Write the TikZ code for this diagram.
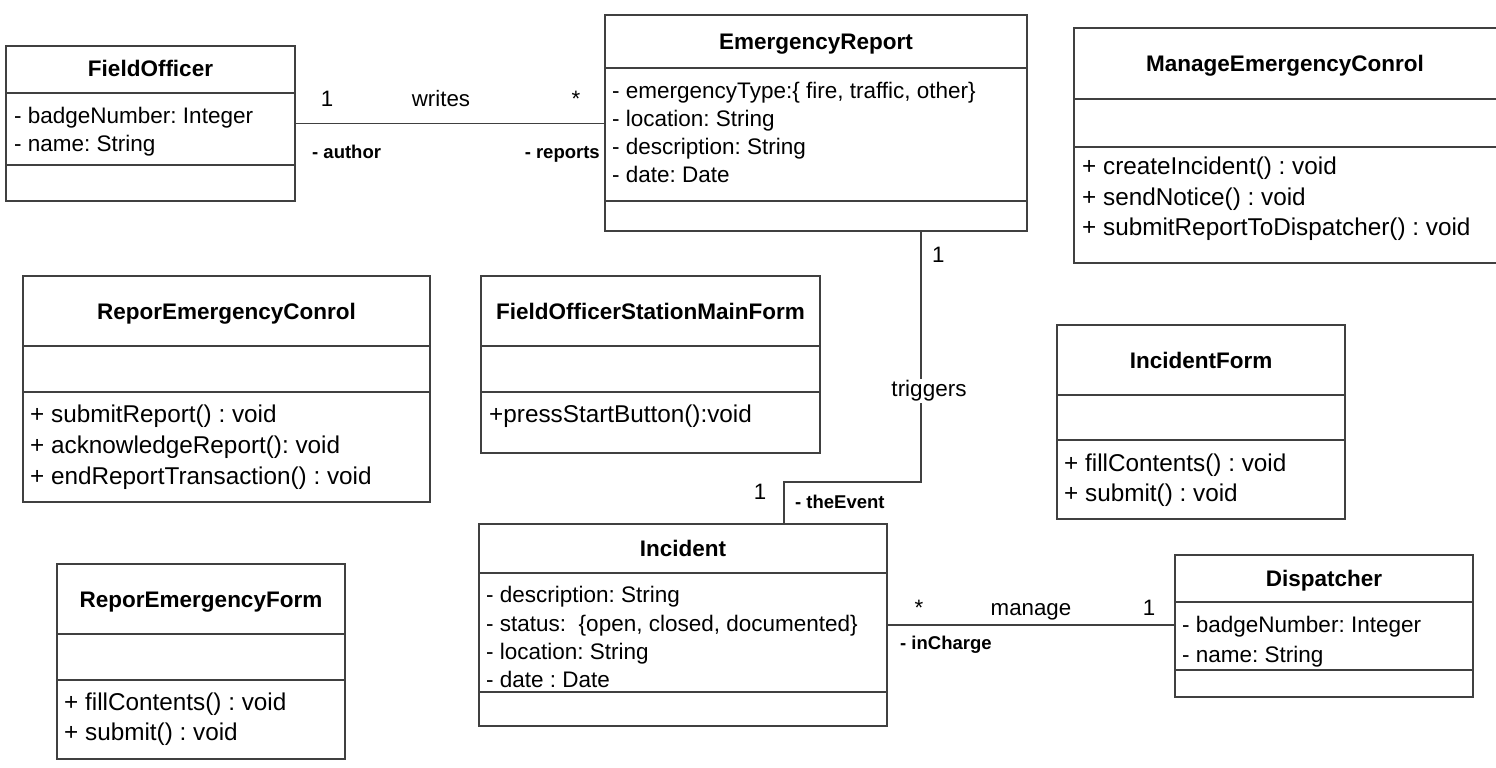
\documentclass[tikz,border=0pt]{standalone}
\usepackage{fontspec}
\setmainfont{Liberation Sans}
\frenchspacing
\begin{document}
\begin{tikzpicture}[x=1pt,y=-1pt,
  box/.style={draw=black!75, line width=1.1pt, anchor=north west, inner sep=0pt, outer sep=0pt},
  div/.style={draw=black!75, line width=1.1pt},
  ttl/.style={font=\bfseries\fontsize{22.5}{27}\selectfont, anchor=base, inner sep=0pt},
  txt/.style={font=\fontsize{22.5}{27}\selectfont, anchor=base west, inner sep=0pt},
  mth/.style={font=\fontsize{24.3}{29}\selectfont, anchor=base west, inner sep=0pt},
  lbl/.style={font=\fontsize{22.3}{27}\selectfont, anchor=base, inner sep=0pt},
  role/.style={font=\bfseries\fontsize{18.5}{22}\selectfont, inner sep=0pt},
  assoc/.style={draw=black!75, line width=1.1pt}]
\useasboundingbox (0,0) rectangle (1496,768);
\fill[white] (0,0) rectangle (1496,768);

% FieldOfficer
\node[box, minimum width=289pt, minimum height=155pt] (fo) at (6,46) {};
\draw[div] (6,93) -- (295,93);
\draw[div] (6,165) -- (295,165);
\node[ttl] (fo-t) at (150.5,77) {FieldOfficer};
\node[txt] (fo-a1) at (14,123) {- badgeNumber: Integer};
\node[txt] (fo-a2) at (14,151) {- name: String};

% EmergencyReport
\node[box, minimum width=422pt, minimum height=216pt] (er) at (605,15) {};
\draw[div] (605,68) -- (1027,68);
\draw[div] (605,201) -- (1027,201);
\node[ttl] (er-t) at (816,49) {EmergencyReport};
\node[txt] (er-a1) at (612,98) {- emergencyType:\{ fire, traffic, other\}};
\node[txt] (er-a2) at (612,126) {- location: String};
\node[txt] (er-a3) at (612,154) {- description: String};
\node[txt] (er-a4) at (612,182) {- date: Date};

% ManageEmergencyConrol (right border lies past the page edge)
\node[box, minimum width=430pt, minimum height=235pt] (mec) at (1074,28) {};
\draw[div] (1074,99) -- (1504,99);
\draw[div] (1074,147) -- (1504,147);
\node[ttl] (mec-t) at (1285,71) {ManageEmergencyConrol};
\node[mth] (mec-m1) at (1082,174.5) {+ createIncident() : void};
\node[mth] (mec-m2) at (1082,205) {+ sendNotice() : void};
\node[mth] (mec-m3) at (1082,235.5) {+ submitReportToDispatcher() : void};

% ReporEmergencyConrol
\node[box, minimum width=407pt, minimum height=226pt] (rec) at (23,276) {};
\draw[div] (23,346) -- (430,346);
\draw[div] (23,392) -- (430,392);
\node[ttl] (rec-t) at (226.5,319) {ReporEmergencyConrol};
\node[mth] (rec-m1) at (30,422.5) {+ submitReport() : void};
\node[mth] (rec-m2) at (30,453.5) {+ acknowledgeReport(): void};
\node[mth] (rec-m3) at (30,484.5) {+ endReportTransaction() : void};

% FieldOfficerStationMainForm
\node[box, minimum width=339pt, minimum height=177pt] (fosmf) at (481,276) {};
\draw[div] (481,346) -- (820,346);
\draw[div] (481,392) -- (820,392);
\node[ttl] (fosmf-t) at (650.5,319) {FieldOfficerStationMainForm};
\node[mth] (fosmf-m1) at (489,422.5) {+pressStartButton():void};

% IncidentForm
\node[box, minimum width=288pt, minimum height=194pt] (ifm) at (1057,325) {};
\draw[div] (1057,395) -- (1345,395);
\draw[div] (1057,440) -- (1345,440);
\node[ttl] (ifm-t) at (1201,368) {IncidentForm};
\node[mth] (ifm-m1) at (1064,471.5) {+ fillContents() : void};
\node[mth] (ifm-m2) at (1064,501.5) {+ submit() : void};

% Incident
\node[box, minimum width=408pt, minimum height=202pt] (inc) at (479,524) {};
\draw[div] (479,573) -- (887,573);
\draw[div] (479,692) -- (887,692);
\node[ttl] (inc-t) at (683,556) {Incident};
\node[txt] (inc-a1) at (486,602) {- description: String};
\node[txt] (inc-a2) at (486,631) {- status:\ \ \{open, closed, documented\}};
\node[txt] (inc-a3) at (486,659) {- location: String};
\node[txt] (inc-a4) at (486,687) {- date : Date};

% Dispatcher
\node[box, minimum width=298pt, minimum height=142pt] (disp) at (1175,555) {};
\draw[div] (1175,602) -- (1473,602);
\draw[div] (1175,670) -- (1473,670);
\node[ttl] (disp-t) at (1324,586) {Dispatcher};
\node[txt] (disp-a1) at (1182,632) {- badgeNumber: Integer};
\node[txt] (disp-a2) at (1182,662) {- name: String};

% ReporEmergencyForm
\node[box, minimum width=288pt, minimum height=195pt] (ref) at (57,564) {};
\draw[div] (57,634) -- (345,634);
\draw[div] (57,680) -- (345,680);
\node[ttl] (ref-t) at (201,607) {ReporEmergencyForm};
\node[mth] (ref-m1) at (64,710.5) {+ fillContents() : void};
\node[mth] (ref-m2) at (64,740.5) {+ submit() : void};

% writes association
\draw[assoc] (fo.east) -- (fo.east -| er.west);
\node[lbl] (w1) at (327,106) {1};
\node[lbl] (wname) at (441,106) {writes};
\node[lbl] (wstar) at (576,106) {*};
\node[role, anchor=base west] (wauth) at (312,158.5) {- author};
\node[role, anchor=base east] (wrep) at (600,158.5) {- reports};

% triggers association
\coordinate (tb) at (921,482);
\coordinate (tl) at (784,482);
\draw[assoc] (er.south -| tb) -- (tb) -- (tl) -- (inc.north -| tl);
\node[font=\fontsize{22.5}{27}\selectfont, fill=white, inner sep=2pt] (tname) at (929,391) {triggers};
\node[lbl, anchor=base west] (t1) at (932,262) {1};
\node[lbl] (t2) at (760,499) {1};
\node[role, anchor=base west] (tev) at (795,508.5) {- theEvent};

% manage association
\draw[assoc] (inc.east) -- (inc.east -| disp.west);
\node[lbl] (mstar) at (919,615) {*};
\node[lbl] (mname) at (1031,615) {manage};
\node[lbl] (m1) at (1149,615) {1};
\node[role, anchor=base west] (mch) at (900,649.5) {- inCharge};
\end{tikzpicture}
\end{document}
